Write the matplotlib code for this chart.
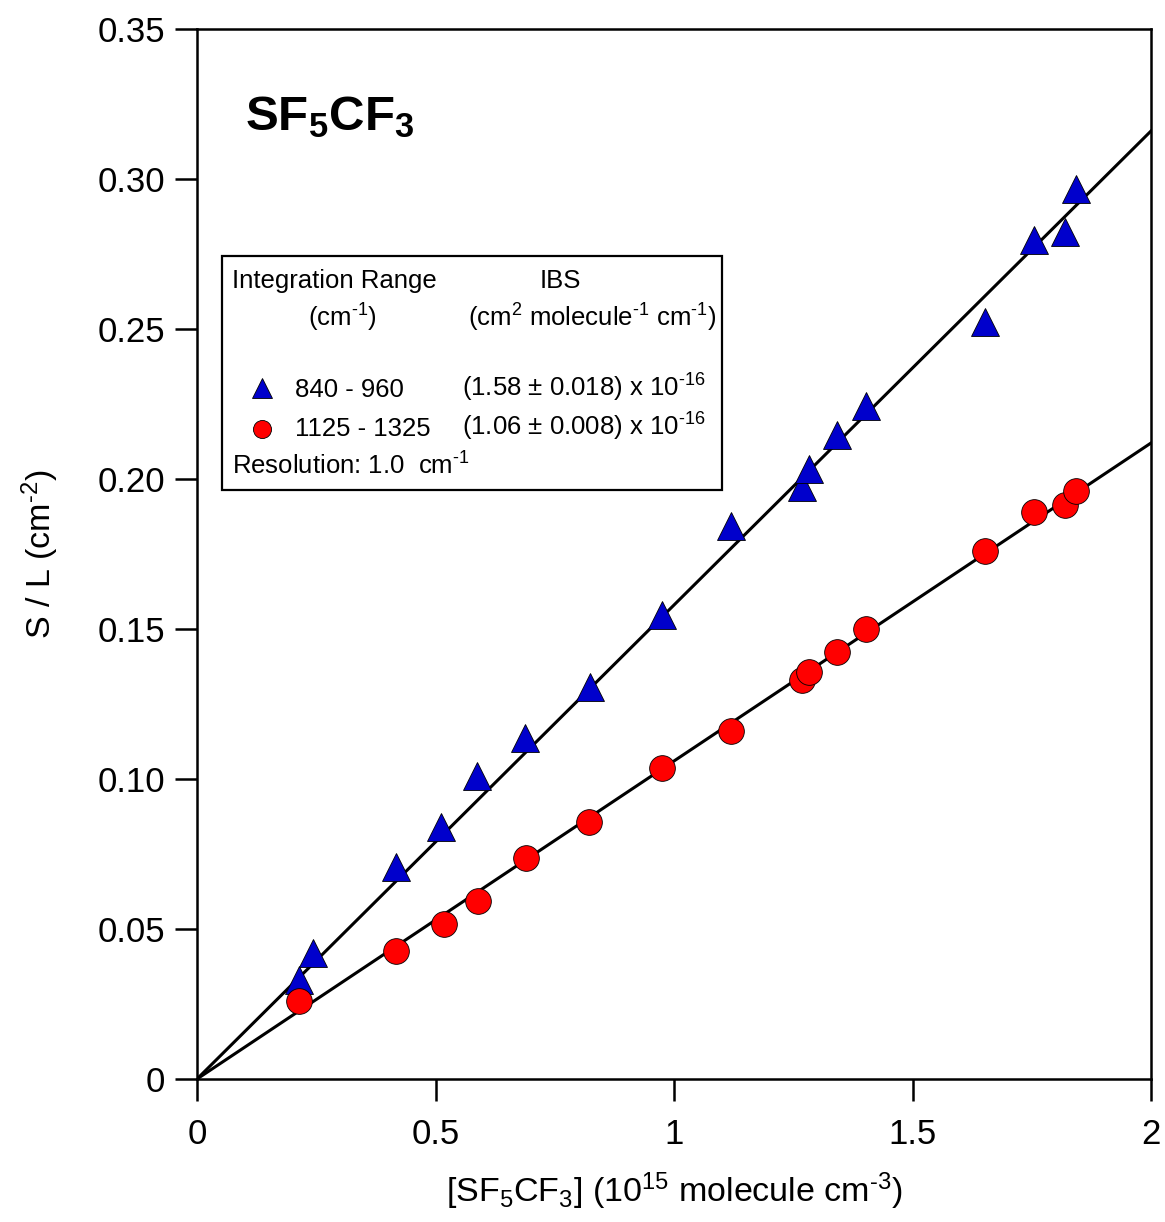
import numpy as np
import matplotlib
matplotlib.use("Agg")
import matplotlib.pyplot as plt
from matplotlib.patches import Rectangle
from matplotlib.ticker import FuncFormatter, MultipleLocator

plt.rcParams['font.family'] = ['Liberation Sans', 'DejaVu Sans']
plt.rcParams['mathtext.fontset'] = 'custom'
plt.rcParams['mathtext.rm'] = 'Liberation Sans'
plt.rcParams['mathtext.it'] = 'Liberation Sans:italic'
plt.rcParams['mathtext.bf'] = 'Liberation Sans:bold'
plt.rcParams['mathtext.default'] = 'rm'

# [SF5CF3] in 1e15 molecule cm-3, S/L in cm-2
conc_840 = [0.214, 0.243, 0.417, 0.512, 0.587, 0.688, 0.824, 0.975, 1.119,
            1.268, 1.283, 1.342, 1.403, 1.652, 1.755, 1.820, 1.843]
sl_840 = [0.033, 0.042, 0.0707, 0.084, 0.101, 0.1137, 0.1307, 0.1547, 0.1843,
          0.1973, 0.2033, 0.2147, 0.2243, 0.2523, 0.2797, 0.2823, 0.2967]

conc_1125 = [0.214, 0.417, 0.518, 0.589, 0.690, 0.822, 0.975, 1.119, 1.268,
             1.283, 1.342, 1.403, 1.652, 1.755, 1.820, 1.843]
sl_1125 = [0.026, 0.0427, 0.0517, 0.0593, 0.0737, 0.0857, 0.1037, 0.116, 0.133,
           0.1357, 0.1423, 0.150, 0.176, 0.189, 0.1913, 0.196]

# integrated band strengths, 1e-16 cm2 molecule-1 cm-1
ibs_840 = 1.58
ibs_1125 = 1.06

HY = '\u2010'  # plain hyphen for exponents (mathtext turns '-' into a minus)

W, H = 1165, 1222
fig = plt.figure(figsize=(W / 100, H / 100), dpi=100)
ax = fig.add_axes([197 / W, 1 - 1079 / H, (1151 - 197) / W, (1079 - 29) / H])

xfit = np.array([0.0, 2.0])
ax.plot(xfit, ibs_840 * 0.1 * xfit, color='black', lw=2.2, zorder=2)
ax.plot(xfit, ibs_1125 * 0.1 * xfit, color='black', lw=2.2, zorder=2)

ax.plot(conc_840, sl_840, linestyle='none', marker='^', ms=20,
        mfc='#0000cc', mec='black', mew=0.6, zorder=3)
ax.plot(conc_1125, sl_1125, linestyle='none', marker='o', ms=18.5,
        mfc='#ff0000', mec='black', mew=0.6, zorder=3)

ax.set_xlim(0, 2)
ax.set_ylim(0, 0.35)
ax.xaxis.set_major_locator(MultipleLocator(0.5))
ax.yaxis.set_major_locator(MultipleLocator(0.05))
ax.xaxis.set_major_formatter(FuncFormatter(lambda v, p: '%g' % v))
ax.yaxis.set_major_formatter(FuncFormatter(lambda v, p: '0' if abs(v) < 1e-9 else '%.2f' % v))

for s in ax.spines.values():
    s.set_linewidth(1.8)
ax.tick_params(axis='both', direction='out', length=16, width=1.8, labelsize=25)
ax.tick_params(axis='x', pad=12)
ax.tick_params(axis='y', pad=7)

ax.set_xlabel(r'[SF$_5$CF$_3$] (10$^{15}$ molecule cm$^{%s3}$)' % HY, fontsize=24.5, labelpad=14)
ax.set_ylabel(r'S / L (cm$^{%s2}$)' % HY, fontsize=24.5, labelpad=26)

fig.text(245 / W, 1 - 130 / H, r'$\mathbf{SF_5CF_3}$', fontsize=35.5,
         ha='left', va='baseline')

# legend box
def fx(px):
    return px / W

def fy(py):
    return 1 - py / H

fig.patches.append(Rectangle((fx(222), fy(490)), fx(722) - fx(222), fy(256) - fy(490),
                             transform=fig.transFigure, fill=False, lw=1.6,
                             edgecolor='black', zorder=5))
fs = 18.5
fig.text(fx(232), fy(288), 'Integration Range', fontsize=fs, ha='left', va='baseline')
fig.text(fx(560), fy(288), 'IBS', fontsize=fs, ha='center', va='baseline')
fig.text(fx(342), fy(327), r'(cm$^{%s1}$)' % HY, fontsize=fs, ha='center', va='baseline')
fig.text(fx(592), fy(327), r'(cm$^{2}$ molecule$^{%s1}$ cm$^{%s1}$)' % (HY, HY), fontsize=fs,
         ha='center', va='baseline')

fig.lines.append(plt.Line2D([fx(262)], [fy(388)], transform=fig.transFigure,
                            marker='^', ms=14, mfc='#0000cc', mec='black', mew=0.6))
fig.lines.append(plt.Line2D([fx(262)], [fy(429)], transform=fig.transFigure,
                            marker='o', ms=13, mfc='#ff0000', mec='black', mew=0.6))
fig.text(fx(295), fy(397), '840 - 960', fontsize=fs, ha='left', va='baseline')
fig.text(fx(295), fy(436), '1125 - 1325', fontsize=fs, ha='left', va='baseline')
fig.text(fx(462), fy(397), r'(%.2f $\pm$ 0.018) x 10$^{%s16}$' % (ibs_840, HY), fontsize=fs,
         ha='left', va='baseline')
fig.text(fx(462), fy(436), r'(%.2f $\pm$ 0.008) x 10$^{%s16}$' % (ibs_1125, HY), fontsize=fs,
         ha='left', va='baseline')
fig.text(fx(232), fy(475), r'Resolution: 1.0  cm$^{%s1}$' % HY, fontsize=fs, ha='left', va='baseline')

fig.savefig('out.png', dpi=100)
